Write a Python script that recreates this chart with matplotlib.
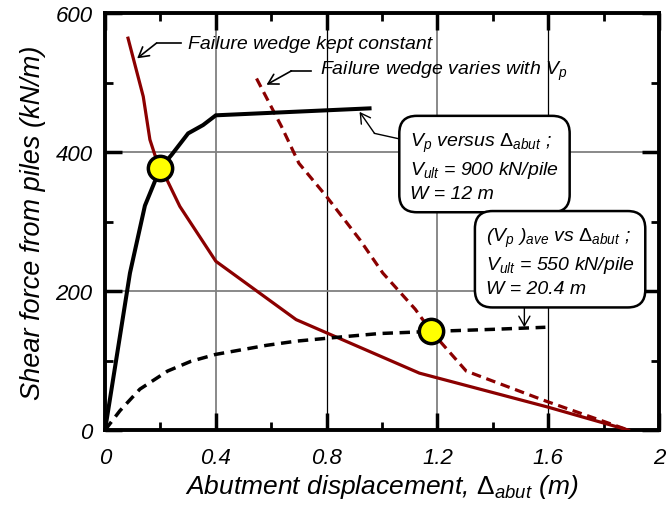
import matplotlib
matplotlib.use("Agg")
import matplotlib.pyplot as plt
from matplotlib.ticker import MultipleLocator

plt.rcParams['font.family'] = ['Liberation Sans', 'DejaVu Sans']
plt.rcParams['mathtext.fontset'] = 'custom'
plt.rcParams['mathtext.rm'] = 'Liberation Sans'
plt.rcParams['mathtext.it'] = 'Liberation Sans:italic'
plt.rcParams['mathtext.bf'] = 'Liberation Sans:bold'

# Vp versus displacement (Vult = 900 kN/pile, W = 12 m)
vp_x = [0, 0.09, 0.144, 0.18, 0.2, 0.24, 0.30, 0.354, 0.40, 0.955]
vp_y = [0, 226, 323, 358, 377, 396, 427, 439, 453, 463]

# (Vp)ave versus displacement (Vult = 550 kN/pile, W = 20.4 m)
ave_x = [0, 0.054, 0.126, 0.226, 0.31, 0.40, 0.583, 0.69, 0.85, 0.991, 1.178, 1.40, 1.59]
ave_y = [0, 28, 59, 85, 99, 109, 122, 128, 134, 139, 142, 145, 148]

# Failure wedge kept constant
const_x = [0.083, 0.138, 0.162, 0.18, 0.27, 0.40, 0.69, 1.135, 1.60, 1.89]
const_y = [564, 480, 418, 396, 322, 243, 159, 82, 33, 0]

# Failure wedge varies with Vp
vary_x = [0.547, 0.637, 0.70, 0.80, 0.92, 1.003, 1.12, 1.178, 1.304, 1.59, 1.89]
vary_y = [506, 437, 384, 336, 274, 226, 174, 142, 85, 42, 0]

# Intersection points
pt_x = [0.2, 1.178]
pt_y = [377, 142]

xticks = [0, 0.4, 0.8, 1.2, 1.6, 2]
xticklabels = ['0', '0.4', '0.8', '1.2', '1.6', '2']
yticks = [0, 200, 400, 600]
yticklabels = ['0', '200', '400', '600']

red = '#8B0000'

fig = plt.figure(figsize=(6.69, 5.06), dpi=100)
ax = fig.add_axes([0.157, 0.148, 0.828, 0.824])

ax.set_xlim(0, 2)
ax.set_ylim(0, 600)

# grid
for gx, col, lw in [(0.4, '#808080', 1.3), (0.8, 'black', 0.9), (1.2, '#808080', 1.3), (1.6, 'black', 0.9)]:
    ax.axvline(gx, color=col, lw=lw, zorder=1)
for gy in [200, 400]:
    ax.axhline(gy, color='#808080', lw=1.3, zorder=1)

ax.plot(const_x, const_y, color=red, lw=2.3, zorder=3)
ax.plot(vary_x, vary_y, color=red, lw=2.3, dashes=(3, 1.8), zorder=3)
ax.plot(vp_x, vp_y, color='black', lw=2.9, zorder=4, solid_joinstyle='miter')
ax.plot(ave_x, ave_y, color='black', lw=2.5, dashes=(3, 1.9), zorder=4)
ax.plot(pt_x, pt_y, 'o', ms=17.5, mfc='#FFFF00', mec='black', mew=2.5, zorder=5)

ax.set_xticks(xticks)
ax.set_xticklabels(xticklabels)
ax.set_yticks(yticks)
ax.set_yticklabels(yticklabels)
ax.xaxis.set_minor_locator(MultipleLocator(0.2))
ax.yaxis.set_minor_locator(MultipleLocator(100))
ax.tick_params(which='major', direction='in', length=12, width=2.5, top=True, right=True,
               labelsize=16, pad=12)
ax.tick_params(axis='y', which='major', pad=9)
ax.tick_params(which='minor', direction='in', length=6, width=2.0, top=True, right=True)
for lab in ax.get_xticklabels() + ax.get_yticklabels():
    lab.set_fontstyle('italic')
for sp in ax.spines.values():
    sp.set_linewidth(2.8)

ax.set_xlabel(r'Abutment displacement, $\mathrm{\Delta}_{abut}$ (m)', fontsize=19,
              fontstyle='italic', labelpad=3)
ax.set_ylabel('Shear force from piles (kN/m)', fontsize=19.5, fontstyle='italic', labelpad=7)

arrow = dict(arrowstyle='->,head_length=0.7,head_width=0.4', color='black',
             shrinkA=0, shrinkB=0)

# annotations
ax.text(0.30, 557, 'Failure wedge kept constant', fontsize=14, fontstyle='italic',
        ha='left', va='center')
ax.plot([0.186, 0.276], [557, 557], color='black', lw=1.2)
ax.annotate('', xy=(0.116, 535), xytext=(0.186, 557), arrowprops=dict(arrow, lw=1.2))

ax.text(0.775, 517, r'Failure wedge varies with $V_p$', fontsize=14, fontstyle='italic',
        ha='left', va='center')
ax.plot([0.673, 0.745], [517, 517], color='black', lw=1.2)
ax.annotate('', xy=(0.583, 497), xytext=(0.673, 517), arrowprops=dict(arrow, lw=1.2))

box = dict(boxstyle='round,pad=0.55,rounding_size=0.9', fc='white', ec='black', lw=1.8)
ax.text(1.37, 380, '$V_p$ versus $\\mathrm{\\Delta}_{abut}$ ;\n$V_{ult}$ = 900 kN/pile\nW = 12 m',
        fontsize=14, fontstyle='italic', ha='center', va='center', multialignment='left',
        linespacing=1.35, bbox=box, zorder=6)
ax.plot([1.075, 0.973], [418, 427], color='black', lw=1.0)
ax.annotate('', xy=(0.919, 458), xytext=(0.973, 427), arrowprops=dict(arrow, lw=1.0))

ax.text(1.643, 243, '($V_p$ )$_{ave}$ vs $\\mathrm{\\Delta}_{abut}$ ;\n$V_{ult}$ = 550 kN/pile\nW = 20.4 m',
        fontsize=14, fontstyle='italic', ha='center', va='center', multialignment='left',
        linespacing=1.35, bbox=box, zorder=6)
ax.annotate('', xy=(1.514, 148), xytext=(1.514, 178), arrowprops=dict(arrow, lw=1.0))

fig.savefig('out.png', dpi=100)
